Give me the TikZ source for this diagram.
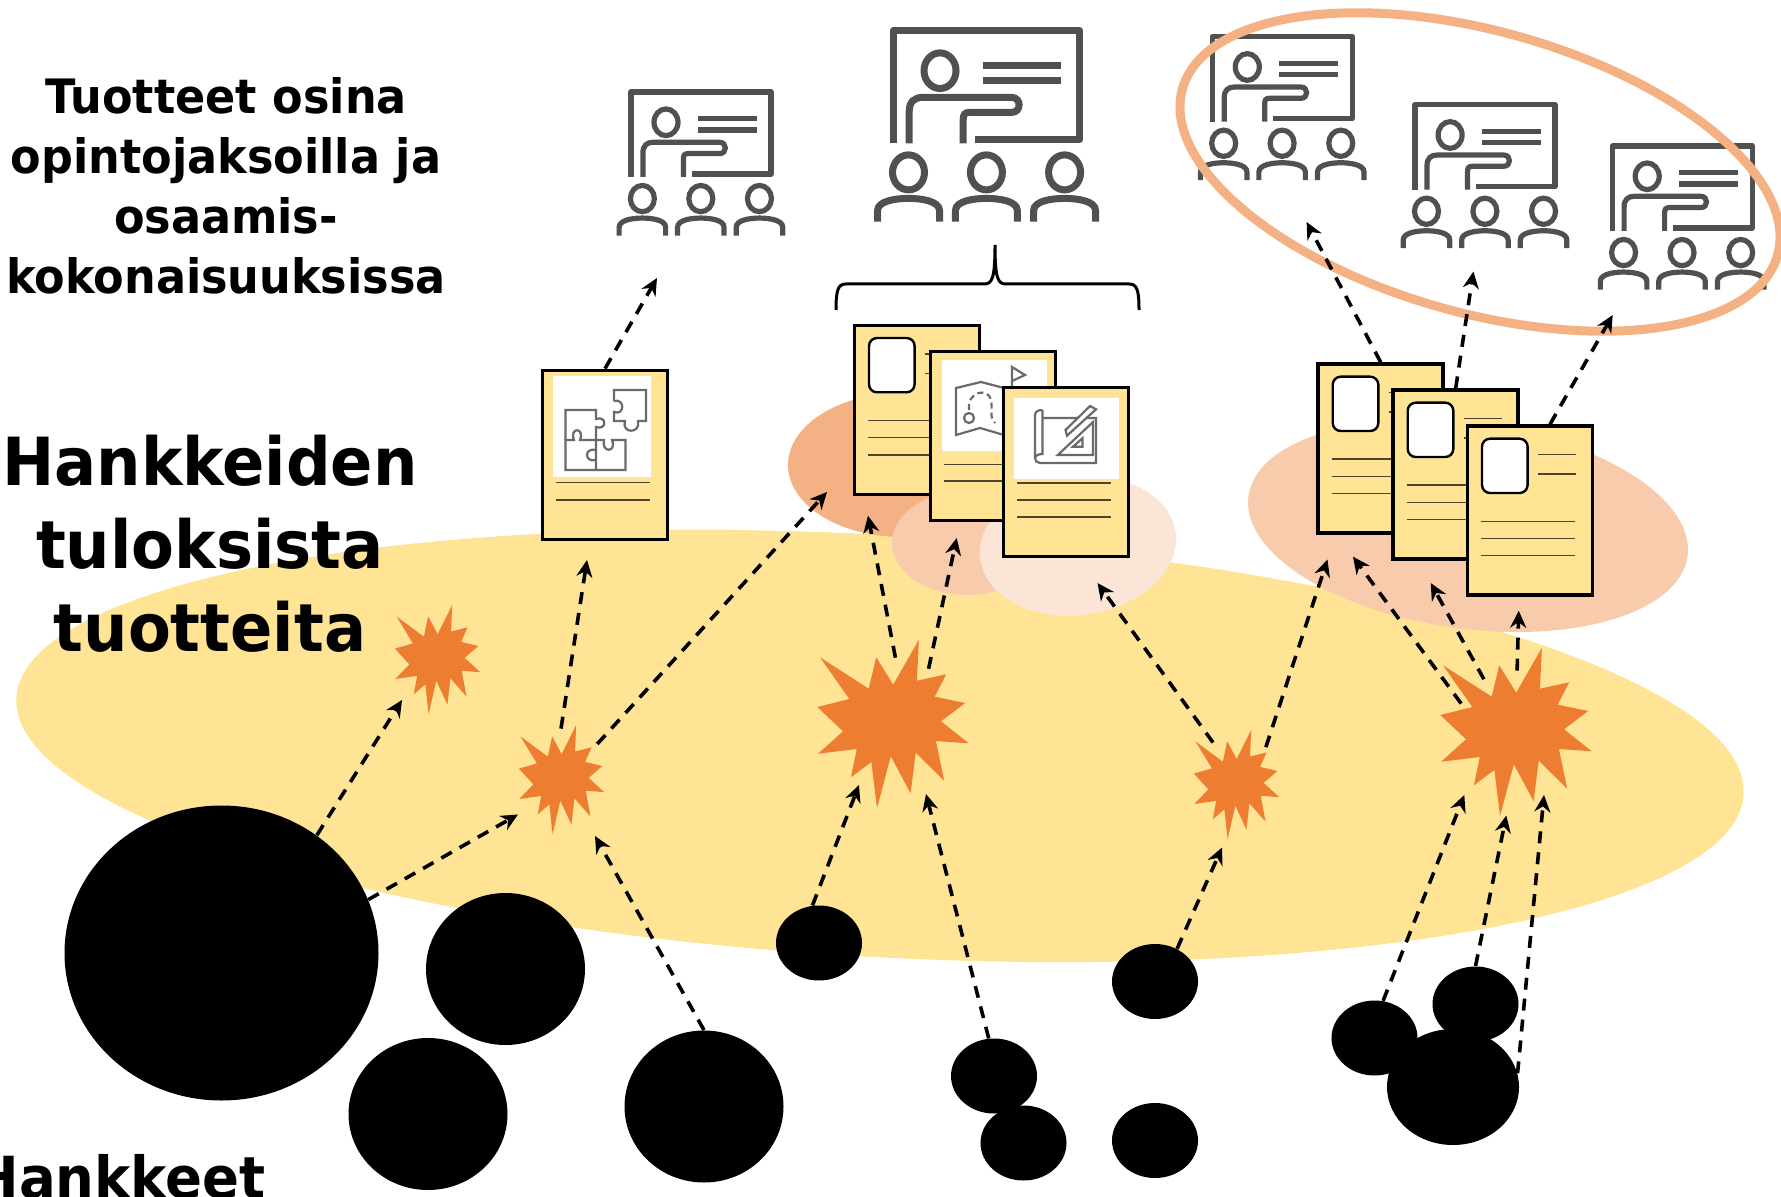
\documentclass[tikz,border=0pt]{standalone}
\usepackage{fontspec}
\setmainfont{DejaVu Sans}[FakeStretch=0.94]
\usetikzlibrary{arrows.meta,shapes.geometric}
\definecolor{sand}{HTML}{FFE496}
\definecolor{spark}{HTML}{ED7D31}
\definecolor{peachA}{HTML}{F4B183}
\definecolor{peachB}{HTML}{F8CBAD}
\definecolor{peachC}{HTML}{FBE5D6}
\definecolor{slate}{HTML}{505050}

\begin{document}
\begin{tikzpicture}[x=0.5pt,y=-0.5pt,
	>={Stealth[length=8.5pt,width=8pt]},
	link/.style={->,line width=1.8pt,dash pattern=on 6pt off 4.5pt},
	blob/.style={ellipse,fill=black,inner sep=0pt},
	core/.style={circle,inner sep=0pt,minimum size=#1},
	sheet/.style={draw=black,line width=1.9pt,fill=sand,inner sep=0pt,minimum width=62.5pt,minimum height=84.5pt},
	rule/.style={line width=0.7pt,black!70!sand},
	thin icon/.style={slate!85,line width=1.1pt},
	small head/.style={align=center,inner sep=0pt,font=\fontsize{23.7}{30}\selectfont\bfseries},
	big head/.style={align=center,inner sep=0pt,font=\fontsize{33.2}{41.5}\selectfont\bfseries},
	page/.pic={
		\node[sheet] (-box) at (64,86) {};
	},
	photopage/.pic={
		\node[sheet] (-box) at (64,86) {};
		\draw[line width=1.2pt,fill=white,rounded corners=4pt] (16,14) rectangle (61.6,68.3);
		\foreach \y in {30,49.3}{
			\draw[rule] (72,\y)--(110,\y);
		}
		\foreach \y in {96.5,113.7,131}{
			\draw[rule] (15,\y)--(109,\y);
		}
	},
	burst/.pic={
		\fill[spark] (26.9,-83.3)--(24.9,-42.3)--(54.2,-48.7)--(42.7,-26.3)--(73.2,-20)--(49,-1.7)--(76.7,20.3)--(43.9,18)--(52.2,57.7)--(23.7,29.7)--(18.6,70.3)--(-1.2,33.3)--(-15,85)--(-20.6,39)--(-41.1,54.3)--(-35.2,26)--(-73.9,30.7)--(-49,8.3)--(-74.7,-16)--(-42.7,-24)--(-72,-65.7)--(-23.3,-34.3)--(-15.8,-65.7)--(1.2,-38.3)--cycle;
	},
	lecture/.pic={
		\begin{scope}[draw=slate]
			\draw[line join=round] (3.7,116.7)--(3.7,3.7)--(190.3,3.7)--(190.3,113)--(85,113);
			\draw (50.4,44) ellipse [x radius=16,y radius=17.8];
			\draw (93,39)--(171.4,39);
			\draw (93,54.3)--(171.4,54.3);
			\draw (19.6,116.7)--(19.6,84.7) .. controls (19.6,75) and (25,70.7) .. (33,70.7)--(122,70.7) .. controls (132,70.7) and (132,85.7) .. (122,85.7)--(80,85.7) .. controls (75,85.7) and (73.6,88) .. (73.6,93)--(73.6,116.7);
			\foreach \x in {18.9,96.8,175}{
				\draw (\x,145.7) ellipse [x radius=16,y radius=17.5];
				\draw[shift={(\x,0)}] (-31,195)--(-31,184) .. controls (-31,174) and (-12,171.7) .. (0,171.7) .. controls (12,171.7) and (31,174) .. (31,184)--(31,195);
			}
		\end{scope}
	},
	]
	\useasboundingbox (0,0) rectangle (1781,1197);
	\fill[sand] (880,746) ellipse [x radius=865,y radius=211,rotate=-3.2];
	\fill[peachA] (902,465) ellipse [x radius=114,y radius=72];
	\fill[peachB] (967,543) ellipse [x radius=75,y radius=52];
	\fill[peachC] (1078,546) ellipse [x radius=98.6,y radius=69,rotate=8];
	\fill[peachB] (1468,526) ellipse [x radius=221.6,y radius=102.6,rotate=-7.8];
	\pic[line width=3.5pt] at (889.6,26.7) {lecture};
	\foreach \x/\y in {628.2/89.3,1209.5/34,1412.3/102,1609.4/143.3}{
		\pic[scale=0.75,line width=2.6pt] at (\x,\y) {lecture};
	}
	\draw[line width=1.5pt] (836,310) .. controls (836,290) and (838,284) .. (846,284)--(984,284) .. controls (992,284) and (995,279) .. (995,245) .. controls (995,279) and (998,284) .. (1006,284)--(1129,284) .. controls (1137,284) and (1139,290) .. (1139,310);
	\pic (puzzle) at (541,369) {page};
	\begin{scope}[shift={(541,369)}]
		\fill[white] (12.4,6.7) rectangle (110.4,108.3);
		\foreach \y in {113.7,131}{
			\draw[rule] (15,\y)--(109,\y);
		}
		\draw[thin icon] (24.5,71)--(24.5,41)--(55,41)--(55,50) .. controls (66,46) and (66,62) .. (55,58)--(55,101);
		\draw[thin icon] (24.5,71)--(33,71) .. controls (28,58) and (44,58) .. (39,71)--(63,71) .. controls (60,84) and (76,84) .. (71,71)--(84.4,71)--(84.4,101)--(24.5,101)--cycle;
		\draw[thin icon] (55,81) .. controls (43,78) and (43,94) .. (55,91);
		\draw[thin icon] (73,32)--(73,21)--(105,21)--(105,52)--(97,52) .. controls (100,65) and (80,65) .. (84,52)--(73,52)--(73,43) .. controls (84,47) and (84,29) .. (73,32);
	\end{scope}
	\pic (stackA) at (853,324) {photopage};
	\pic (stackB) at (929,350) {page};
	\begin{scope}[shift={(929,350)}]
		\fill[white] (13,10) rectangle (118,100.7);
		\foreach \y in {114.3,131}{
			\draw[rule] (15,\y)--(109,\y);
		}
		\draw[thin icon] (27,85)--(27,38)--(52,32)--(75,38)--(75,85)--(51,78)--cycle;
		\draw[thin icon] (40,68) circle (5);
		\draw[thin icon,densely dashed] (40,60) .. controls (38,40) and (60,38) .. (62,50) .. controls (64,60) and (60,68) .. (66,73);
		\draw[thin icon] (83,36)--(83,17)--(96,25)--(83,31);
	\end{scope}
	\pic (stackC) at (1002,386) {page};
	\begin{scope}[shift={(1002,386)}]
		\fill[white] (11.5,12) rectangle (117,92.7);
		\foreach \y in {97,114,131}{
			\draw[rule] (15,\y)--(109,\y);
		}
		\draw[thin icon] (40.5,24) .. controls (35,24) and (33,26) .. (33,30)--(33,72) .. controls (33,75) and (35,77) .. (38,77)--(94,77)--(94,32)--(40.5,32);
		\draw[thin icon] (40.5,24)--(40.5,68) .. controls (36,68) and (33,70) .. (33,72);
		\draw[thin icon] (55.8,69)--(91,69)--(91,36)--cycle;
		\draw[thin icon] (71,60.7)--(80.4,60.7)--(80.4,52.3)--cycle;
		\draw[thin icon,fill=white] (65,49.7)--(63.5,44)--(88,20)--(94,23.3)--cycle;
	\end{scope}
	\pic (rowA) at (1316.7,362.7) {photopage};
	\pic (rowB) at (1391.7,388.7) {photopage};
	\pic (rowC) at (1466,424.7) {photopage};
	\draw[peachA,line width=4.5pt] (1480,172) ellipse [x radius=309,y radius=141,rotate=-15.6];
	\foreach \n/\x/\y/\sx/\sy/\d in {sparkA/437/659/0.564/0.65/50pt,sparkB/561/779/0.564/0.65/100pt,sparkC/892/723/1/1/130pt,sparkD/1236/784/0.564/0.65/94pt,sparkE/1515/731/1/1/120pt}{
		\pic[xscale=\sx,yscale=\sy] at (\x,\y) {burst};
		\node[core=0.5*\d] (\n) at (\x,\y) {};
	}
	\node[blob,minimum width=157pt,minimum height=147.5pt] (hugeA) at (221.5,953) {};
	\foreach \n/\x/\y in {midA/505.5/969,midB/428/1114,midC/704/1106.5}{
		\node[blob,minimum width=79.5pt,minimum height=76pt] (\n) at (\x,\y) {};
	}
	\foreach \n/\x/\y in {dotA/819/943,dotB/994/1076,dotC/1023.5/1143,dotD/1155/981.5,dotE/1155/1140.5,dotF/1374.5/1038,dotG/1475.5/1004}{
		\node[blob,minimum width=43pt,minimum height=37.5pt] (\n) at (\x,\y) {};
	}
	\node[blob,minimum width=66pt,minimum height=58pt] (dotH) at (1453,1087) {};
	\foreach \from/\x/\y [count=\i] in {hugeA.51/402/700,hugeA.20/518/814.5,midC.90/595/836,sparkB.90/587/560,puzzle-box.north/657/278,sparkB.44/827/492,sparkC.87/868/515.7,sparkC.56/956.7/538,dotA.100/859/785,dotB.98/926/794,sparkD.119/1097.5/583,sparkD.51/1327.5/559.5,dotD.56/1222/847.5,sparkE.153/1353/556.7,sparkE.121/1430.7/583,sparkE.88/1518.7/610.7,dotF.77/1464.3/795,dotG.90/1506.3/815.6,dotH.12/1544/795,rowA-box.north/1306.6/222,rowB-box.north/1473.4/271.5,rowC-box.77/1612.7/315}{
		\coordinate (tip\i) at (\x,\y);
		\draw[link] (\from)--(tip\i);
	}
	\node[small head] (title) at (226,186) {Tuotteet osina\\opintojaksoilla ja\\osaamis-\\kokonaisuuksissa};
	\node[big head] (results) at (210,544) {Hankkeiden\\tuloksista\\tuotteita};
	\node[big head,anchor=base west,font=\fontsize{29}{36}\selectfont\bfseries] (projects) at (-27,1198) {Hankkeet};
\end{tikzpicture}
\end{document}
